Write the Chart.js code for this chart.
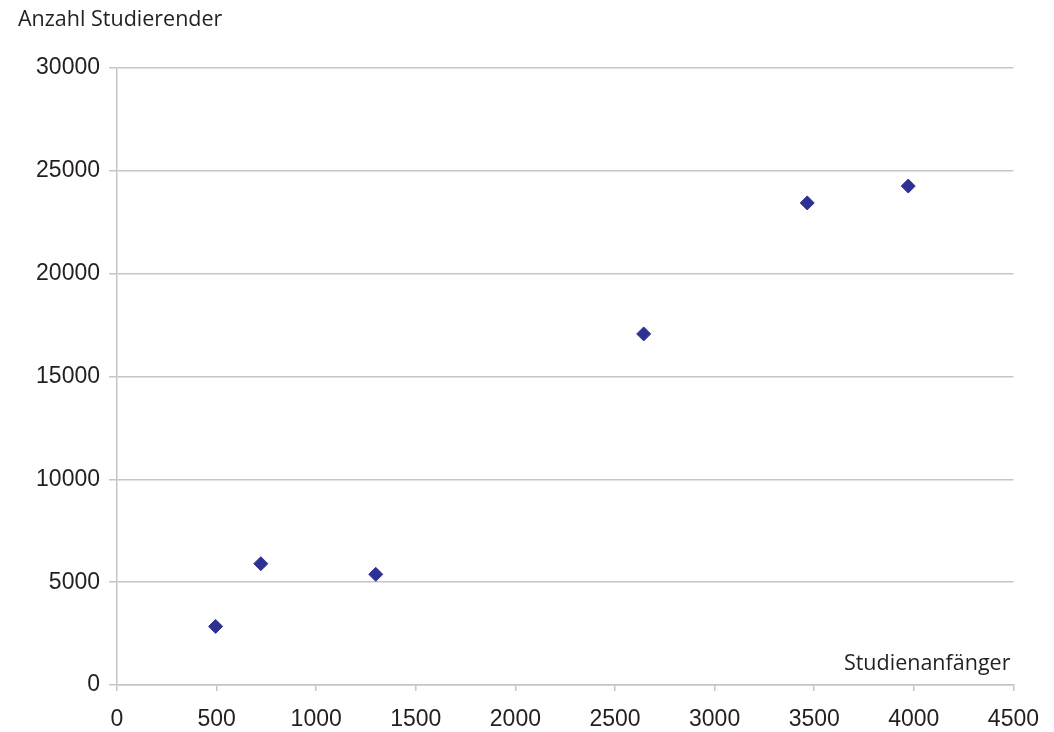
<!DOCTYPE html>
<html>
<head>
<meta charset="utf-8">
<script src="https://cdn.jsdelivr.net/npm/chart.js@4/dist/chart.umd.min.js"></script>
<style>
  html, body { margin: 0; padding: 0; background: #fff; }
  #wrap { width: 1054px; height: 732px; }
</style>
</head>
<body>
<div id="wrap"><canvas id="scatterChart"></canvas></div>
<script>
// Studienanfänger (x) vs. Anzahl Studierender (y)
var anfaenger = [495, 722, 1299, 2644, 3465, 3972];
var studierende = [2850, 5900, 5380, 17070, 23440, 24260];
var yTitle = "Anzahl Studierender";
var xTitle = "Studienanfänger";

var points = [];
for (var i = 0; i < anfaenger.length; i++) {
    points.push({x: anfaenger[i], y: studierende[i]});
}

var gridColor = "#c6c6c6";
var textColor = "#231f20";
var tickFont = {family: "'Liberation Sans', Arial, sans-serif", size: 23};

// plain numbers, no thousands separator
function plain(value) {
    return String(value);
}

// draws the two axis captions (top left and inside, above the x axis)
var captions = {
    id: 'captions',
    afterDraw: function (chart) {
        var ctx = chart.ctx;
        var area = chart.chartArea;
        ctx.save();
        ctx.fillStyle = textColor;
        ctx.font = "21.5px 'Open Sans', sans-serif";
        ctx.textBaseline = 'middle';
        ctx.textAlign = 'left';
        ctx.fillText(yTitle, 18, 20);
        ctx.textAlign = 'right';
        ctx.fillText(xTitle, area.right - 3, area.bottom - 21);
        ctx.restore();
    }
};

var chartElem = document.getElementById("scatterChart");
var chart = new Chart(chartElem, {
    type: 'scatter',
    data: {
        datasets: [
            {
                label: yTitle,
                data: points,
                pointStyle: 'rectRot',
                pointRadius: 7,
                pointHoverRadius: 7,
                backgroundColor: "#2e3192",
                borderColor: "#2e3192",
                borderWidth: 1
            }
        ]
    },
    options: {
        responsive: true,
        maintainAspectRatio: false,
        animation: false,
        layout: {padding: {left: 18, right: 39, top: 68, bottom: 0}},
        plugins: {
            legend: {display: false},
            tooltip: {enabled: false},
            title: {display: false}
        },
        scales: {
            x: {
                type: 'linear',
                min: 0,
                max: 4500,
                ticks: {stepSize: 500, color: textColor, font: tickFont, padding: 15, maxRotation: 0, callback: plain},
                grid: {drawOnChartArea: false, drawTicks: true, tickLength: 6, color: gridColor, lineWidth: 1.5},
                border: {display: true, color: gridColor, width: 1.5},
                afterFit: function (scale) { scale.height = 47; }
            },
            y: {
                min: 0,
                max: 30000,
                ticks: {stepSize: 5000, color: textColor, font: tickFont, padding: 9, callback: plain},
                grid: {color: gridColor, lineWidth: 1.5, tickLength: 8, drawTicks: true},
                border: {display: true, color: gridColor, width: 1.5},
                afterFit: function (scale) { scale.width = 99; }
            }
        }
    },
    plugins: [captions]
});
</script>
</body>
</html>
